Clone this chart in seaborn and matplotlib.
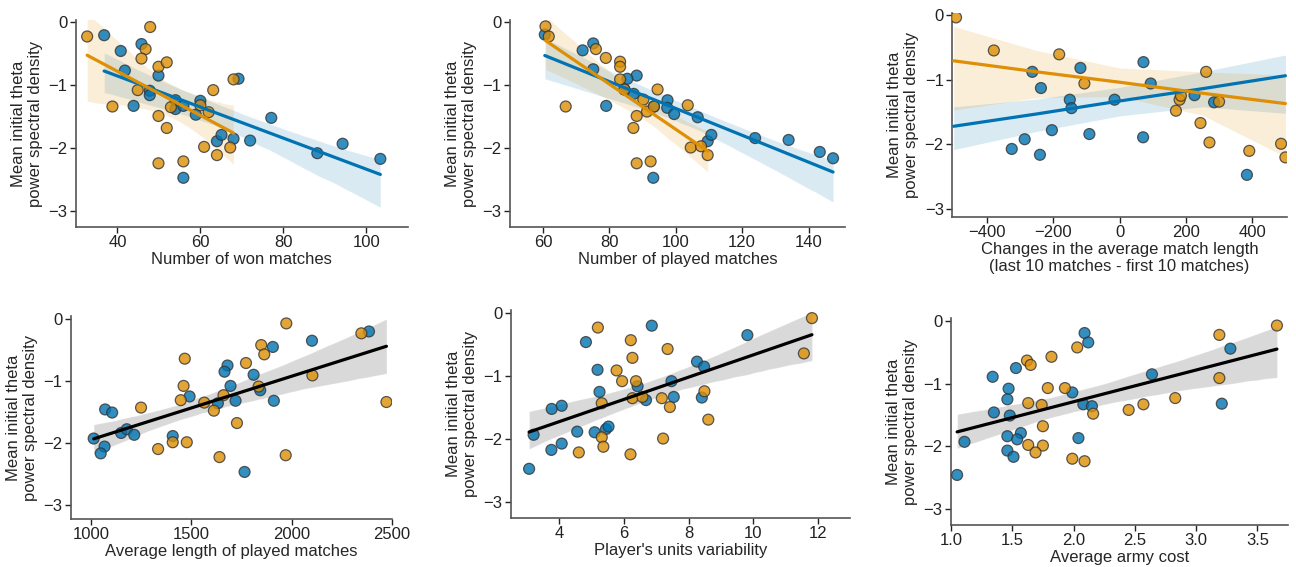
import numpy as np
import pandas as pd
import matplotlib
matplotlib.use("Agg")
import matplotlib.pyplot as plt
import seaborn as sns

sns.set_style("ticks")
plt.rcParams['font.family'] = ['Liberation Sans', 'DejaVu Sans']

BLUE = "#0173b2"
ORANGE = "#de8f05"
YLABEL = "Mean initial theta\npower spectral density"

# ---- Panel 1: Number of won matches ----
won_x_o = [32.7, 47.9, 46.8, 45.8, 49.9, 51.9, 44.9, 38.8, 49.9, 51.9, 52.9, 60.0, 62.0, 63.1, 68.0, 60.9, 64.0, 67.2, 49.9, 55.9]
won_y_o = [-0.23, -0.08, -0.43, -0.58, -0.71, -0.64, -1.08, -1.34, -1.49, -1.68, -1.35, -1.32, -1.43, -1.08, -0.91, -1.98, -2.11, -1.99, -2.24, -2.21]
won_x_b = [36.8, 40.8, 45.8, 41.8, 49.9, 47.8, 47.8, 43.9, 54.0, 54.0, 55.9, 60.0, 58.9, 69.2, 64.0, 65.1, 68.0, 55.9, 72.0, 77.1, 88.2, 94.3, 103.4]
won_y_b = [-0.21, -0.46, -0.35, -0.77, -0.85, -1.09, -1.16, -1.33, -1.24, -1.38, -1.33, -1.25, -1.47, -0.90, -1.89, -1.79, -1.85, -2.47, -1.88, -1.52, -2.08, -1.93, -2.17]

# ---- Panel 2: Number of played matches ----
played_x_o = [60.7, 61.7, 75.9, 78.9, 83.2, 83.2, 83.2, 66.8, 94.5, 90.2, 91.3, 88.2, 87.2, 93.4, 103.6, 104.5, 107.6, 109.6, 88.2, 92.4, 84.5]
played_y_o = [-0.07, -0.23, -0.43, -0.57, -0.63, -0.71, -0.91, -1.34, -1.07, -1.23, -1.42, -1.49, -1.68, -1.34, -1.32, -1.99, -1.97, -2.11, -2.24, -2.21, -1.07]
played_x_b = [60.5, 75.1, 71.9, 75.1, 88.2, 85.4, 79.0, 87.3, 97.5, 97.4, 99.5, 93.4, 106.6, 109.6, 110.7, 123.9, 134.0, 143.4, 147.4, 93.2, 84.5]
played_y_b = [-0.20, -0.34, -0.45, -0.75, -0.85, -0.90, -1.33, -1.14, -1.24, -1.36, -1.46, -1.34, -1.51, -1.89, -1.79, -1.84, -1.87, -2.06, -2.16, -2.47, -1.07]

# ---- Panel 3: Changes in the average match length ----
change_x_o = [-493, -379, -182, -106, 261, 181, 185, 170, 300, 244, 271, 391, 487, 500]
change_y_o = [-0.04, -0.55, -0.61, -1.06, -0.88, -1.31, -1.25, -1.48, -1.34, -1.67, -1.97, -2.10, -1.99, -2.20]
change_x_b = [-263, -237, -118, -150, -145, -15, 72, 94, 226, 285, -204, -91, -286, -325, -240, 71, 384]
change_y_b = [-0.88, -1.13, -0.82, -1.31, -1.44, -1.31, -0.73, -1.06, -1.24, -1.35, -1.78, -1.84, -1.92, -2.07, -2.16, -1.89, -2.47]
# fitted trend lines and 95% bands as shown in the reference
change_fit_x = [-500, -250, 0, 250, 500]
change_fit_b = [-1.72, -1.53, -1.33, -1.14, -0.94]
change_lo_b = [-2.08, -1.80, -1.56, -1.42, -1.52]
change_hi_b = [-1.42, -1.30, -1.12, -0.88, -0.62]
change_fit_o = [-0.71, -0.88, -1.04, -1.21, -1.37]
change_lo_o = [-1.47, -1.28, -1.26, -1.55, -2.19]
change_hi_o = [-0.18, -0.55, -0.82, -0.88, -0.93]

# ---- Panel 4: Average length of played matches ----
length_x_o = [1973, 2347, 1848, 1863, 1772, 1467, 1461, 1447, 1249, 1564, 1612, 1660, 1835, 2103, 2472, 1727, 1407, 1477, 1334, 1640, 1970]
length_y_o = [-0.07, -0.23, -0.42, -0.57, -0.71, -0.64, -1.08, -1.31, -1.43, -1.35, -1.48, -1.23, -1.09, -0.91, -1.34, -1.68, -1.99, -1.99, -2.10, -2.23, -2.20]
length_x_b = [2385, 2101, 1906, 1680, 1665, 1810, 1695, 1843, 1491, 1632, 1720, 1911, 1070, 1105, 1013, 1067, 1048, 1150, 1178, 1215, 1407, 1765]
length_y_b = [-0.20, -0.35, -0.45, -0.75, -0.85, -0.90, -1.08, -1.15, -1.25, -1.36, -1.32, -1.32, -1.46, -1.51, -1.93, -2.06, -2.17, -1.84, -1.78, -1.87, -1.89, -2.47]

# ---- Panel 5: Player's units variability ----
units_x_o = [11.82, 11.57, 5.19, 6.21, 7.35, 6.26, 5.77, 5.94, 6.37, 6.26, 6.57, 5.31, 7.17, 7.42, 8.49, 8.61, 5.31, 5.36, 7.21, 4.60, 6.20]
units_y_o = [-0.08, -0.64, -0.23, -0.43, -0.57, -0.71, -0.91, -1.08, -1.08, -1.35, -1.33, -1.43, -1.35, -1.49, -1.24, -1.69, -1.97, -2.12, -1.99, -2.21, -2.24]
units_x_b = [6.86, 9.82, 4.82, 8.26, 8.48, 5.18, 7.47, 6.42, 5.24, 6.68, 7.54, 8.41, 4.07, 3.76, 4.55, 5.09, 5.44, 5.52, 3.20, 4.07, 3.75, 3.06]
units_y_b = [-0.20, -0.35, -0.46, -0.77, -0.85, -0.90, -1.08, -1.16, -1.25, -1.38, -1.33, -1.34, -1.47, -1.52, -1.88, -1.89, -1.84, -1.80, -1.93, -2.07, -2.17, -2.47]

# ---- Panel 6: Average army cost ----
army_x_o = [3.66, 3.19, 2.03, 1.82, 1.62, 1.65, 1.79, 1.93, 3.19, 2.83, 1.63, 1.74, 2.16, 2.45, 2.57, 1.75, 1.63, 1.75, 1.69, 1.99, 2.09]
army_y_o = [-0.07, -0.22, -0.42, -0.57, -0.63, -0.70, -1.07, -1.07, -0.91, -1.23, -1.31, -1.34, -1.48, -1.42, -1.33, -1.68, -1.98, -1.99, -2.10, -2.20, -2.24]
army_x_b = [2.09, 2.12, 3.28, 1.53, 1.34, 2.64, 1.47, 1.99, 1.46, 2.08, 2.15, 3.21, 1.35, 1.48, 1.46, 1.57, 1.54, 2.04, 1.11, 1.46, 1.51, 1.05]
army_y_b = [-0.19, -0.34, -0.44, -0.75, -0.89, -0.85, -1.08, -1.14, -1.25, -1.33, -1.36, -1.32, -1.46, -1.51, -1.84, -1.79, -1.89, -1.87, -1.93, -2.07, -2.17, -2.46]


def make_df(xo, yo, xb, yb):
    return pd.DataFrame({
        "x": list(xb) + list(xo),
        "y": list(yb) + list(yo),
        "group": ["blue"] * len(xb) + ["orange"] * len(xo),
    })


fig = plt.figure(figsize=(12.96, 5.67), dpi=100)

panels = [
    # (pos, data, xlabel, xlim, ylim, xticks, mode)
    ([0.0586, 0.5996, 0.2560, 0.3650], (won_x_o, won_y_o, won_x_b, won_y_b),
     "Number of won matches", (30, 110), (-3.25, 0.03), [40, 60, 80, 100], "group"),
    ([0.3935, 0.5996, 0.2585, 0.3650], (played_x_o, played_y_o, played_x_b, played_y_b),
     "Number of played matches", (50, 151), (-3.25, 0.03), [60, 80, 100, 120, 140], "group"),
    ([0.7346, 0.6173, 0.2585, 0.3600], (change_x_o, change_y_o, change_x_b, change_y_b),
     "Changes in the average match length\n(last 10 matches - first 10 matches)", (-505, 505), (-3.12, 0.03),
     [-400, -200, 0, 200, 400], "fit"),
    ([0.0548, 0.0847, 0.2477, 0.3580], (length_x_o, length_y_o, length_x_b, length_y_b),
     "Average length of played matches", (900, 2500), (-3.23, 0.05), [1000, 1500, 2000, 2500], "all"),
    ([0.3943, 0.0864, 0.2616, 0.3670], (units_x_o, units_y_o, units_x_b, units_y_b),
     "Player's units variability", (2.5, 13), (-3.25, 0.05), [4, 6, 8, 10, 12], "all"),
    ([0.7338, 0.0741, 0.2600, 0.3650], (army_x_o, army_y_o, army_x_b, army_y_b),
     "Average army cost", (1.0, 3.75), (-3.26, 0.05), [1.0, 1.5, 2.0, 2.5, 3.0, 3.5], "all"),
]

for pos, data, xlabel, xlim, ylim, xticks, mode in panels:
    ax = fig.add_axes(pos)
    df = make_df(*data)
    ax.set_xlim(*xlim)
    ax.set_ylim(*ylim)
    sns.scatterplot(data=df, x="x", y="y", hue="group",
                    palette={"blue": BLUE, "orange": ORANGE},
                    s=62, alpha=0.8, edgecolor="#333333", linewidth=0.9,
                    legend=False, ax=ax, zorder=3)
    if mode == "group":
        for g, c in [("blue", BLUE), ("orange", ORANGE)]:
            sub = df[df.group == g]
            sns.regplot(data=sub, x="x", y="y", scatter=False, color=c, ax=ax,
                        truncate=True, seed=1, n_boot=1000,
                        line_kws={"lw": 2.3, "zorder": 4})
    elif mode == "fit":
        fit = pd.DataFrame({"x": change_fit_x * 2,
                            "y": change_fit_b + change_fit_o,
                            "group": ["blue"] * 5 + ["orange"] * 5})
        ax.fill_between(change_fit_x, change_lo_b, change_hi_b, color=BLUE, alpha=0.15, lw=0, zorder=1)
        ax.fill_between(change_fit_x, change_lo_o, change_hi_o, color=ORANGE, alpha=0.15, lw=0, zorder=1)
        sns.lineplot(data=fit, x="x", y="y", hue="group",
                     palette={"blue": BLUE, "orange": ORANGE},
                     lw=2.3, legend=False, ax=ax, zorder=4)
    else:
        sns.regplot(data=df, x="x", y="y", scatter=False, color="black", ax=ax,
                    truncate=True, seed=1, n_boot=1000,
                    line_kws={"lw": 2.3, "zorder": 4})
    ax.set_xlim(*xlim)
    ax.set_ylim(*ylim)
    ax.set_xticks(xticks)
    if isinstance(xticks[0], float):
        ax.set_xticklabels([f"{t:.1f}" for t in xticks])
    ax.set_yticks([0, -1, -2, -3])
    ax.set_xlabel(xlabel, fontsize=12, labelpad=1)
    ax.set_ylabel(YLABEL, fontsize=12, labelpad=4)
    ax.tick_params(labelsize=12, length=4, width=1, colors="#222222", pad=2)
    for sp in ["top", "right"]:
        ax.spines[sp].set_visible(False)
    for sp in ["left", "bottom"]:
        ax.spines[sp].set_color("#555555")
        ax.spines[sp].set_linewidth(1.2)

fig.savefig("out.png", dpi=100)
